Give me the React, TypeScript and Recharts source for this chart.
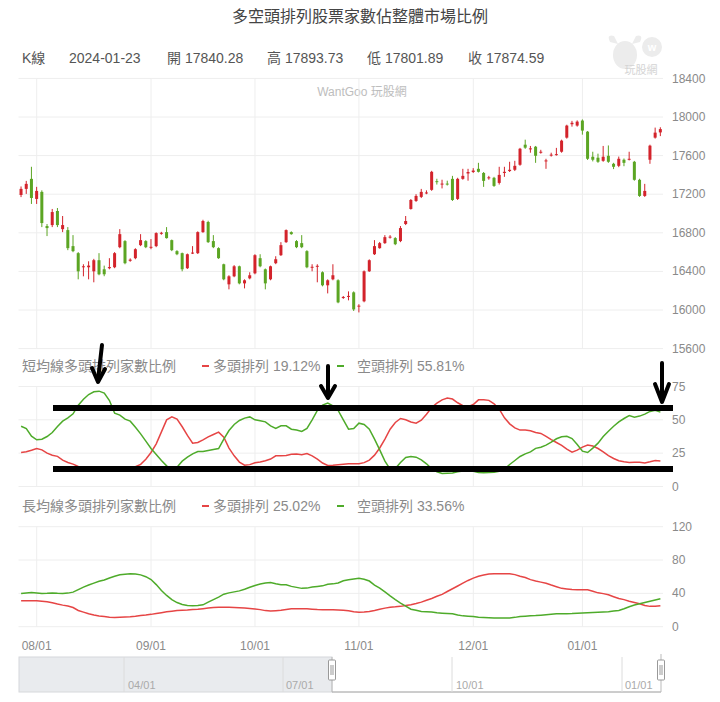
import React from "react";
import { ComposedChart, Bar, Line, XAxis, YAxis, CartesianGrid } from "recharts";

// trading days per month (TWSE)
const jul23 = [27, 28, 31];
const aug23 = [1, 2, 4, 7, 8, 9, 10, 11, 14, 15, 16, 17, 18, 21, 22, 23, 24, 25, 28, 29, 30, 31];
const sep23 = [1, 4, 5, 6, 7, 8, 11, 12, 13, 14, 15, 18, 19, 20, 21, 22, 25, 26, 27, 28];
const oct23 = [2, 3, 4, 5, 6, 11, 12, 13, 16, 17, 18, 19, 20, 23, 24, 25, 26, 27, 30, 31];
const nov23 = [1, 2, 3, 6, 7, 8, 9, 10, 13, 14, 15, 16, 17, 20, 21, 22, 23, 24, 27, 28, 29, 30];
const dec23 = [1, 4, 5, 6, 7, 8, 11, 12, 13, 14, 15, 18, 19, 20, 21, 22, 25, 26, 27, 28, 29];
const jan24 = [2, 3, 4, 5, 8, 9, 10, 11, 12, 15, 16, 17, 18, 19, 22, 23];

const monthTicks = ["2023-08-01", "2023-09-01", "2023-10-02", "2023-11-01", "2023-12-01", "2024-01-02"];

const opens = [
  17192, 17255, 17359, 17151, 17224, 16870, 16880, 17026, 16838, 16828, 16662, 16589, 16443, 16443, 16401, 16516,
  16422, 16433, 16443, 16651, 16714, 16510, 16537, 16672, 16714, 16645, 16662, 16790, 16807, 16724, 16610, 16589,
  16433, 16585, 16589, 16807, 16912, 16714, 16641, 16474, 16266, 16349, 16453, 16276, 16328, 16380, 16537, 16422,
  16318, 16485, 16568, 16703, 16807, 16714, 16693, 16610, 16438, 16448, 16391, 16256, 16318, 16308, 16125, 16136,
  16183, 16035, 16090, 16401, 16578, 16641, 16693, 16750, 16745, 16714, 16891, 17047, 17130, 17172, 17208, 17245,
  17335, 17300, 17310, 17359, 17151, 17359, 17415, 17430, 17463, 17420, 17365, 17370, 17317, 17420, 17440, 17453,
  17505, 17713, 17665, 17692, 17630, 17540, 17600, 17605, 17640, 17786, 17925, 17911, 17963, 17848, 17588, 17578,
  17546, 17598, 17515, 17494, 17557, 17557, 17536, 17349, 17182, 17557, 17786, 17840.28,
];
const highs = [
  17280, 17338, 17484, 17276, 17240, 16891, 17047, 17057, 16974, 16859, 16776, 16600, 16474, 16505, 16530, 16589,
  16460, 16537, 16600, 16838, 16724, 16535, 16640, 16786, 16724, 16735, 16805, 16810, 16859, 16730, 16620, 16595,
  16585, 16662, 16815, 16935, 16925, 16776, 16650, 16480, 16360, 16465, 16460, 16318, 16391, 16578, 16578, 16430,
  16460, 16557, 16703, 16835, 16815, 16724, 16776, 16620, 16474, 16474, 16400, 16318, 16474, 16318, 16145, 16193,
  16193, 16060, 16410, 16525, 16724, 16705, 16776, 16776, 16755, 16870, 16974, 17150, 17200, 17255, 17240, 17442,
  17360, 17350, 17340, 17390, 17370, 17463, 17463, 17470, 17525, 17430, 17390, 17380, 17484, 17484, 17536, 17546,
  17680, 17765, 17700, 17700, 17660, 17567, 17630, 17680, 17765, 17920, 17960, 17965, 17975, 17855, 17640, 17620,
  17700, 17705, 17525, 17590, 17570, 17640, 17545, 17360, 17307, 17713, 17890, 17893.73,
];
const lows = [
  17170, 17203, 17099, 17099, 16859, 16766, 16859, 16859, 16807, 16620, 16599, 16318, 16349, 16318, 16287, 16360,
  16350, 16422, 16433, 16640, 16474, 16500, 16526, 16662, 16641, 16630, 16651, 16780, 16740, 16610, 16568, 16401,
  16425, 16580, 16580, 16800, 16695, 16641, 16530, 16308, 16214, 16340, 16266, 16224, 16318, 16370, 16443, 16214,
  16308, 16475, 16560, 16695, 16780, 16641, 16641, 16433, 16401, 16287, 16245, 16172, 16308, 16070, 16115, 16100,
  15990, 15975, 16080, 16395, 16570, 16635, 16685, 16740, 16672, 16703, 16880, 17040, 17120, 17160, 17200, 17235,
  17300, 17260, 17290, 17130, 17140, 17350, 17340, 17420, 17425, 17276, 17350, 17276, 17300, 17380, 17430, 17440,
  17495, 17670, 17630, 17525, 17620, 17463, 17590, 17600, 17630, 17776, 17900, 17900, 17817, 17555, 17540, 17525,
  17536, 17525, 17460, 17480, 17490, 17550, 17340, 17172, 17172, 17515, 17776, 17801.89,
];
const closes = [
  17255, 17307, 17161, 17234, 16901, 16849, 17015, 16880, 16880, 16641, 16610, 16401, 16453, 16460, 16516, 16370,
  16370, 16445, 16589, 16786, 16485, 16522, 16630, 16724, 16651, 16655, 16797, 16800, 16745, 16620, 16578, 16422,
  16578, 16595, 16807, 16922, 16703, 16651, 16537, 16318, 16349, 16453, 16276, 16308, 16360, 16568, 16453, 16276,
  16453, 16526, 16672, 16828, 16786, 16651, 16651, 16443, 16448, 16458, 16256, 16308, 16360, 16079, 16135, 16146,
  16006, 16045, 16401, 16516, 16662, 16693, 16755, 16760, 16682, 16849, 16922, 17140, 17182, 17224, 17218, 17432,
  17328, 17310, 17300, 17140, 17359, 17390, 17430, 17445, 17432, 17338, 17375, 17286, 17400, 17432, 17453, 17494,
  17671, 17682, 17675, 17598, 17640, 17550, 17610, 17615, 17755, 17911, 17940, 17952, 17859, 17567, 17557, 17536,
  17588, 17536, 17484, 17567, 17525, 17567, 17349, 17182, 17234, 17703, 17838, 17874.59,
];

// 短均線 多頭 / 空頭 (%)
const shortBull = [
  25.5, 26, 27.2, 28.5, 27.5, 25, 23.5, 22.6, 19.8, 18, 16.8, 15, 14.2, 13.8, 13.5, 13.2,
  13, 13, 13.2, 13.4, 13.6, 14, 14.8, 16.6, 20.5, 25.5, 32, 41, 50, 52.2, 50.5, 44.8,
  38.3, 32.5, 33, 35, 37.2, 39, 40.8, 37, 28.8, 23, 18.3, 16, 16.4, 17.8, 18.4, 19.3,
  20.6, 23, 23, 23.2, 24.1, 24.4, 23.9, 24.7, 23, 20.5, 17.6, 15.8, 15.9, 16.3, 16.7, 17,
  17, 17, 17.9, 19.8, 23.5, 28.9, 35.6, 43, 48, 51, 50.1, 48.4, 47.5, 49.7, 54.2, 59.3,
  62.5, 65, 66.3, 65.6, 62.8, 60.6, 59.8, 61.5, 65, 65, 64.6, 62, 58, 51.5, 47, 44,
  42.3, 42.3, 41.8, 40.5, 39.8, 37.6, 35.2, 33, 30.8, 28, 25.8, 27.3, 29.5, 31.1, 30.4, 28.5,
  26, 23.2, 21, 19.3, 18.5, 18, 18.1, 18.1, 17.7, 18.5, 19.5, 19.12,
];
const shortBear = [
  45.2, 43.5, 37.8, 35, 35.5, 37.5, 40.5, 45, 49, 51.5, 54.5, 61, 65.5, 69, 71, 71.5,
  70, 64.5, 55, 53.5, 50.5, 49, 44.5, 39.5, 34, 28.5, 24, 19.5, 15.5, 12.5, 14.5, 19,
  22, 24.5, 26.2, 26.2, 27, 27.8, 28.5, 35.5, 42, 46.5, 49.5, 51.3, 52.2, 50, 49.3, 48.5,
  45.5, 43.5, 45.5, 45.5, 43, 42.4, 41.3, 43.5, 50, 57, 61, 62.5, 60.5, 57, 50, 43,
  43.5, 47.5, 46.5, 43, 35.5, 27.5, 19, 13, 13.5, 18, 21.8, 22.5, 22, 20, 17, 13.2,
  11, 9.8, 10, 10.2, 11, 11.6, 12, 11.5, 10.5, 10.3, 10.5, 10.7, 11.5, 13, 16.5, 19.5,
  22.5, 24.5, 26, 28.6, 29.5, 31, 33.2, 35.8, 37.3, 37.7, 36, 31.5, 26.5, 25.5, 28.8, 32.5,
  37.5, 41.5, 45.2, 48.5, 51, 53.2, 52, 52.8, 54.3, 56.3, 57.2, 55.81,
];
// 長均線 多頭 / 空頭 (%)
const longBull = [
  31.2, 31.2, 31.2, 31.2, 30.5, 29.8, 28.7, 27.2, 25.9, 24.8, 23, 19.5, 17.5, 15.6, 14, 12.8,
  12.2, 11.4, 11.1, 11.3, 11.5, 11.8, 12.5, 13.4, 13.9, 14.8, 15.9, 16.8, 17.8, 18.6, 19.3, 19.6,
  20, 20.6, 21, 21.6, 22.3, 23, 23.2, 23.2, 23.2, 23, 22.8, 22.3, 21.8, 21.3, 20.5, 19.3,
  18.9, 19.2, 19.6, 20.5, 21.4, 21.6, 21.6, 21.6, 21, 20.5, 20.4, 20.4, 20.3, 20, 19.7, 19,
  18, 17.3, 17.5, 18.3, 19.5, 21, 22.3, 23.4, 23.8, 24.4, 25.5, 26.4, 27.8, 29.5, 31.7, 33.8,
  36.5, 38.8, 42.2, 45.5, 48.8, 52.2, 55.5, 58.3, 60.5, 62, 63.2, 63.4, 63.6, 63.6, 63.6, 62.5,
  60.5, 59, 56.5, 54.8, 53.5, 52.2, 50, 48, 46, 45.3, 44.6, 44.4, 44.4, 44.4, 42.5, 40.6,
  39.7, 38.3, 36, 33.8, 32.5, 30.6, 29, 27.5, 25.5, 24.4, 24.4, 25.02,
];
const longBear = [
  39.8, 40.5, 41, 40.5, 39.8, 40, 40.4, 40, 39.8, 40.3, 41.5, 44.5, 47.5, 50, 52.3, 54.5,
  56, 58.5, 60.5, 62.3, 63, 63.6, 63.2, 62.2, 60, 56.6, 50.5, 43.5, 37.5, 32.5, 29, 26.6,
  25.5, 25.2, 25.3, 26.2, 29.5, 32.5, 35.5, 39, 40.6, 41.8, 43, 45, 47.3, 49.5, 51.2, 52.4,
  53, 51.5, 50.4, 50.4, 48.4, 47.2, 46, 46.3, 47.5, 48.2, 49, 51, 51.4, 52.5, 55.2, 56.3,
  57.2, 58, 57, 54.8, 50, 46.4, 41.8, 37, 32.5, 28.4, 24.8, 21, 19.8, 18.3, 18, 17.5,
  16.6, 16.2, 15.9, 15.4, 14, 13, 12.6, 12.1, 11.4, 11, 10.7, 10.5, 10.4, 10.4, 10.4, 11.2,
  12.2, 12.6, 13, 13.3, 13.8, 14.3, 14.8, 15.4, 15.6, 15.6, 15.8, 16.2, 16.5, 16.8, 17.1, 17.4,
  17.7, 18, 18.7, 19.5, 21.5, 24, 26, 27.5, 29, 30.5, 32, 33.56,
];

const priceTicks = [15600, 16000, 16400, 16800, 17200, 17600, 18000, 18400];
const shortTicks = [0, 25, 50, 75];
const longTicks = [0, 40, 80, 120];

const RED = "#d3232b";
const GREEN = "#5ba523";
const LINE_RED = "#e64545";
const LINE_GREEN = "#4eab2a";
const FONT = "'Liberation Sans', 'Noto Sans CJK TC', sans-serif";
const GRID = "#eeeeee";

const pad = (n: number) => String(n).padStart(2, "0");
const dates = [
  ...jul23.map((d) => `2023-07-${pad(d)}`),
  ...aug23.map((d) => `2023-08-${pad(d)}`),
  ...sep23.map((d) => `2023-09-${pad(d)}`),
  ...oct23.map((d) => `2023-10-${pad(d)}`),
  ...nov23.map((d) => `2023-11-${pad(d)}`),
  ...dec23.map((d) => `2023-12-${pad(d)}`),
  ...jan24.map((d) => `2024-01-${pad(d)}`),
];

const data = dates.map((date, i) => ({
  date,
  range: [lows[i], highs[i]],
  open: opens[i],
  high: highs[i],
  low: lows[i],
  close: closes[i],
  sBull: shortBull[i],
  sBear: shortBear[i],
  lBull: longBull[i],
  lBear: longBear[i],
}));

function Candle(props: any) {
  const { x, y, width, height, payload } = props;
  if (!payload) return null;
  const { open, close, high, low } = payload;
  const color = close >= open ? RED : GREEN;
  const top = Math.min(y, y + height);
  const h = Math.abs(height);
  const ratio = h / (high - low);
  const bodyTop = top + (high - Math.max(open, close)) * ratio;
  const bodyH = Math.max(1, Math.abs(close - open) * ratio);
  const cx = x + width / 2;
  return (
    <g>
      <line x1={cx} x2={cx} y1={top} y2={top + h} stroke={color} strokeWidth={1} />
      <rect x={x} y={bodyTop} width={width} height={bodyH} fill={color} />
    </g>
  );
}

const YTick = (props: any) => (
  <text x={props.x} y={props.y} dy={4} textAnchor="start" fontSize={12} fill="#8a8a8a" fontFamily={FONT}>
    {props.payload.value}
  </text>
);

const XTick = (props: any) => {
  const m = props.payload.value.slice(5, 7);
  return (
    <text x={props.x} y={props.y} dy={23} textAnchor="middle" fontSize={12} fill="#8a8a8a" fontFamily={FONT}>
      {`${m}/01`}
    </text>
  );
};

const W = 720;
const LEFT = 18.5;
const AXIS_W = 57;

function Legend({ top, title, bull, bear }: { top: number; title: string; bull: string; bear: string }) {
  const base: React.CSSProperties = { position: "absolute", top, fontSize: 14, color: "#8a8a8a", whiteSpace: "nowrap", lineHeight: "16px" };
  return (
    <>
      <div style={{ ...base, left: 22 }}>{title}</div>
      <div style={{ position: "absolute", left: 202, top: top + 7, width: 7, height: 2, background: LINE_RED }} />
      <div style={{ ...base, left: 213 }}>多頭排列 {bull}</div>
      <div style={{ position: "absolute", left: 337, top: top + 7, width: 7, height: 2, background: LINE_GREEN }} />
      <div style={{ ...base, left: 357 }}>空頭排列 {bear}</div>
    </>
  );
}

export default function App() {
  const info: [number, string][] = [
    [22, "K線"],
    [69, "2024-01-23"],
    [167, "開 17840.28"],
    [267, "高 17893.73"],
    [367, "低 17801.89"],
    [468, "收 17874.59"],
  ];
  return (
    <div style={{ position: "absolute", left: 0, top: 0, width: 720, height: 702, background: "#fff", fontFamily: FONT, overflow: "hidden" }}>
      <div style={{ position: "absolute", left: 0, width: 720, top: 7, textAlign: "center", fontSize: 16, color: "#444", lineHeight: "20px" }}>
        多空頭排列股票家數佔整體市場比例
      </div>
      {info.map(([x, t]) => (
        <div key={t} style={{ position: "absolute", left: x, top: 50, fontSize: 14, color: "#555", lineHeight: "16px", whiteSpace: "nowrap" }}>
          {t}
        </div>
      ))}
      <svg style={{ position: "absolute", left: 0, top: 0 }} width={720} height={100}>
        <path d="M610,42 Q606,34 614,36 L618,44 Z" fill="#ececec" />
        <path d="M640,42 Q644,34 636,36 L632,44 Z" fill="#ececec" />
        <ellipse cx={625} cy={55} rx={12} ry={14} fill="#ececec" />
        <circle cx={652} cy={47} r={10} fill="#ececec" />
        <text x={652} y={51} textAnchor="middle" fontSize={11} fill="#fff" fontWeight="bold">w</text>
        <text x={641} y={74} textAnchor="middle" fontSize={11} fill="#d4d4d4" fontFamily={FONT}>玩股網</text>
        <text x={362} y={96} textAnchor="middle" fontSize={12} fill="#bdbdbd" fontFamily={FONT}>WantGoo 玩股網</text>
      </svg>

      <div style={{ position: "absolute", left: 0, top: 70 }}>
        <ComposedChart width={W} height={290} data={data} margin={{ top: 8.4, right: 0, bottom: 11.4, left: LEFT }} barCategoryGap="20%">
          <CartesianGrid stroke={GRID} syncWithTicks />
          <XAxis dataKey="date" scale="band" ticks={monthTicks} interval={0} hide />
          <YAxis orientation="right" width={AXIS_W} domain={[15600, 18400]} ticks={priceTicks} axisLine={false} tickLine={false} tickSize={0} tickMargin={9} tick={<YTick />} />
          <Bar dataKey="range" shape={<Candle />} isAnimationActive={false} />
        </ComposedChart>
      </div>

      <Legend top={358} title="短均線多頭排列家數比例" bull="19.12%" bear="55.81%" />
      <div style={{ position: "absolute", left: 0, top: 376 }}>
        <ComposedChart width={W} height={120} data={data} margin={{ top: 10.5, right: 0, bottom: 9.5, left: LEFT }}>
          <CartesianGrid stroke={GRID} syncWithTicks />
          <XAxis dataKey="date" scale="band" ticks={monthTicks} interval={0} hide />
          <YAxis orientation="right" width={AXIS_W} domain={[0, 75]} ticks={shortTicks} axisLine={false} tickLine={false} tickSize={0} tickMargin={9} tick={<YTick />} />
          <Line dataKey="sBull" stroke={LINE_RED} strokeWidth={1.5} dot={false} type="linear" isAnimationActive={false} />
          <Line dataKey="sBear" stroke={LINE_GREEN} strokeWidth={1.5} dot={false} type="linear" isAnimationActive={false} />
        </ComposedChart>
      </div>

      <Legend top={498} title="長均線多頭排列家數比例" bull="25.02%" bear="33.56%" />
      <div style={{ position: "absolute", left: 0, top: 516 }}>
        <ComposedChart width={W} height={150} data={data} margin={{ top: 10.7, right: 0, bottom: 0, left: LEFT }}>
          <CartesianGrid stroke={GRID} syncWithTicks />
          <XAxis dataKey="date" scale="band" ticks={monthTicks} interval={0} height={39.3} axisLine={false} tickLine={false} tickSize={0} tickMargin={0} tick={<XTick />} />
          <YAxis orientation="right" width={AXIS_W} domain={[0, 120]} ticks={longTicks} axisLine={false} tickLine={false} tickSize={0} tickMargin={9} tick={<YTick />} />
          <Line dataKey="lBull" stroke={LINE_RED} strokeWidth={1.5} dot={false} type="linear" isAnimationActive={false} />
          <Line dataKey="lBear" stroke={LINE_GREEN} strokeWidth={1.5} dot={false} type="linear" isAnimationActive={false} />
        </ComposedChart>
      </div>

      {/* range slider */}
      <svg style={{ position: "absolute", left: 0, top: 650 }} width={720} height={52}>
        <rect x={19} y={7} width={313} height={35} fill="#e9ebee" stroke="#d6d8db" />
        <line x1={332} x2={661} y1={42} y2={42} stroke="#9a9a9a" />
        <line x1={332} x2={332} y1={7} y2={42} stroke="#bbb" />
        {[124, 283, 452, 622].map((x) => (
          <line key={x} x1={x} x2={x} y1={7} y2={42} stroke="#dcdcdc" />
        ))}
        {[[128, "04/01"], [286, "07/01"], [456, "10/01"], [625, "01/01"]].map(([x, t]) => (
          <text key={t as string} x={x as number} y={39} fontSize={11} fill="#aaa" fontFamily={FONT}>{t}</text>
        ))}
        <line x1={661} x2={661} y1={4} y2={42} stroke="#bbb" />
        <rect x={328.5} y={10} width={7} height={20} rx={1} fill="#fff" stroke="#999" />
        <line x1={331} x2={331} y1={15} y2={25} stroke="#999" />
        <line x1={333} x2={333} y1={15} y2={25} stroke="#999" />
        <rect x={657.5} y={10} width={7} height={20} rx={1} fill="#fff" stroke="#999" />
        <line x1={660} x2={660} y1={15} y2={25} stroke="#999" />
        <line x1={662} x2={662} y1={15} y2={25} stroke="#999" />
      </svg>

      {/* hand-drawn annotations */}
      <svg style={{ position: "absolute", left: 0, top: 0, pointerEvents: "none" }} width={720} height={702}>
        <line x1={53} x2={673} y1={408} y2={408} stroke="#000" strokeWidth={6} />
        <line x1={53} x2={673} y1={469} y2={469} stroke="#000" strokeWidth={6} />
        <g stroke="#000" strokeWidth={4} strokeLinecap="round" strokeLinejoin="round" fill="none">
          <line x1={102} y1={345} x2={98} y2={380} />
          <polyline points="92,368 98,382 105,369" />
          <line x1={328} y1={366} x2={328} y2={396} />
          <polyline points="321,386 328,398 335,386" />
          <line x1={662} y1={363} x2={662} y2={400} />
          <polyline points="655,384 662,402 669,384" />
        </g>
      </svg>
    </div>
  );
}
